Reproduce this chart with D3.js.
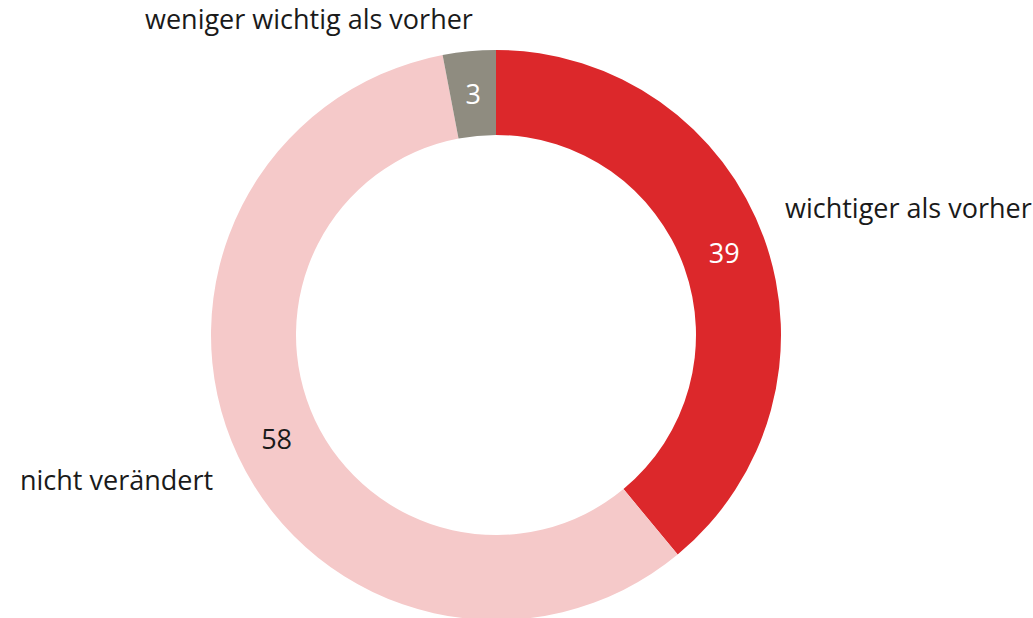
<!DOCTYPE html>
<html>
<head>
<meta charset="utf-8">
<script src="https://cdn.jsdelivr.net/npm/d3@7"></script>
<style>
  body { margin: 0; background: #fff; }
  svg text { font-family: "Open Sans", sans-serif; }
</style>
</head>
<body>
<div id="chart"></div>
<script>
// slice data
const categories = ["wichtiger als vorher", "nicht verändert", "weniger wichtig als vorher"];
const values = [39, 58, 3];
const sliceColors = ["#dc282b", "#f5c9c9", "#8f8c80"];
const valueColors = ["#ffffff", "#1a1a1a", "#ffffff"];

const width = 1033;
const height = 618;
const cx = 496;
const cy = 335;
const outerR = 285;
const innerR = 200;

const svg = d3.select("#chart")
  .append("svg")
  .attr("width", width)
  .attr("height", height);

const g = svg.append("g")
  .attr("transform", `translate(${cx},${cy})`);

const pie = d3.pie().sort(null).value(d => d);
const arcs = pie(values);

const arc = d3.arc()
  .innerRadius(innerR)
  .outerRadius(outerR);

// slices
g.selectAll("path")
  .data(arcs)
  .enter()
  .append("path")
  .attr("d", arc)
  .attr("fill", (d, i) => sliceColors[i]);

// value labels at centroid
g.selectAll("text.value")
  .data(arcs)
  .enter()
  .append("text")
  .attr("class", "value")
  .attr("x", d => arc.centroid(d)[0])
  .attr("y", d => arc.centroid(d)[1])
  .attr("text-anchor", "middle")
  .attr("dominant-baseline", "central")
  .attr("font-size", 27)
  .attr("fill", (d, i) => valueColors[i])
  .text(d => d.data);

// category labels, placed outside the ring
const labelPos = [
  { x: 785, y: 218, anchor: "start" },
  { x: 20, y: 490, anchor: "start" },
  { x: 145, y: 29, anchor: "start" }
];

svg.selectAll("text.cat")
  .data(categories)
  .enter()
  .append("text")
  .attr("class", "cat")
  .attr("x", (d, i) => labelPos[i].x)
  .attr("y", (d, i) => labelPos[i].y)
  .attr("text-anchor", (d, i) => labelPos[i].anchor)
  .attr("font-size", 27)
  .attr("fill", "#1a1a1a")
  .text(d => d);
</script>
</body>
</html>
